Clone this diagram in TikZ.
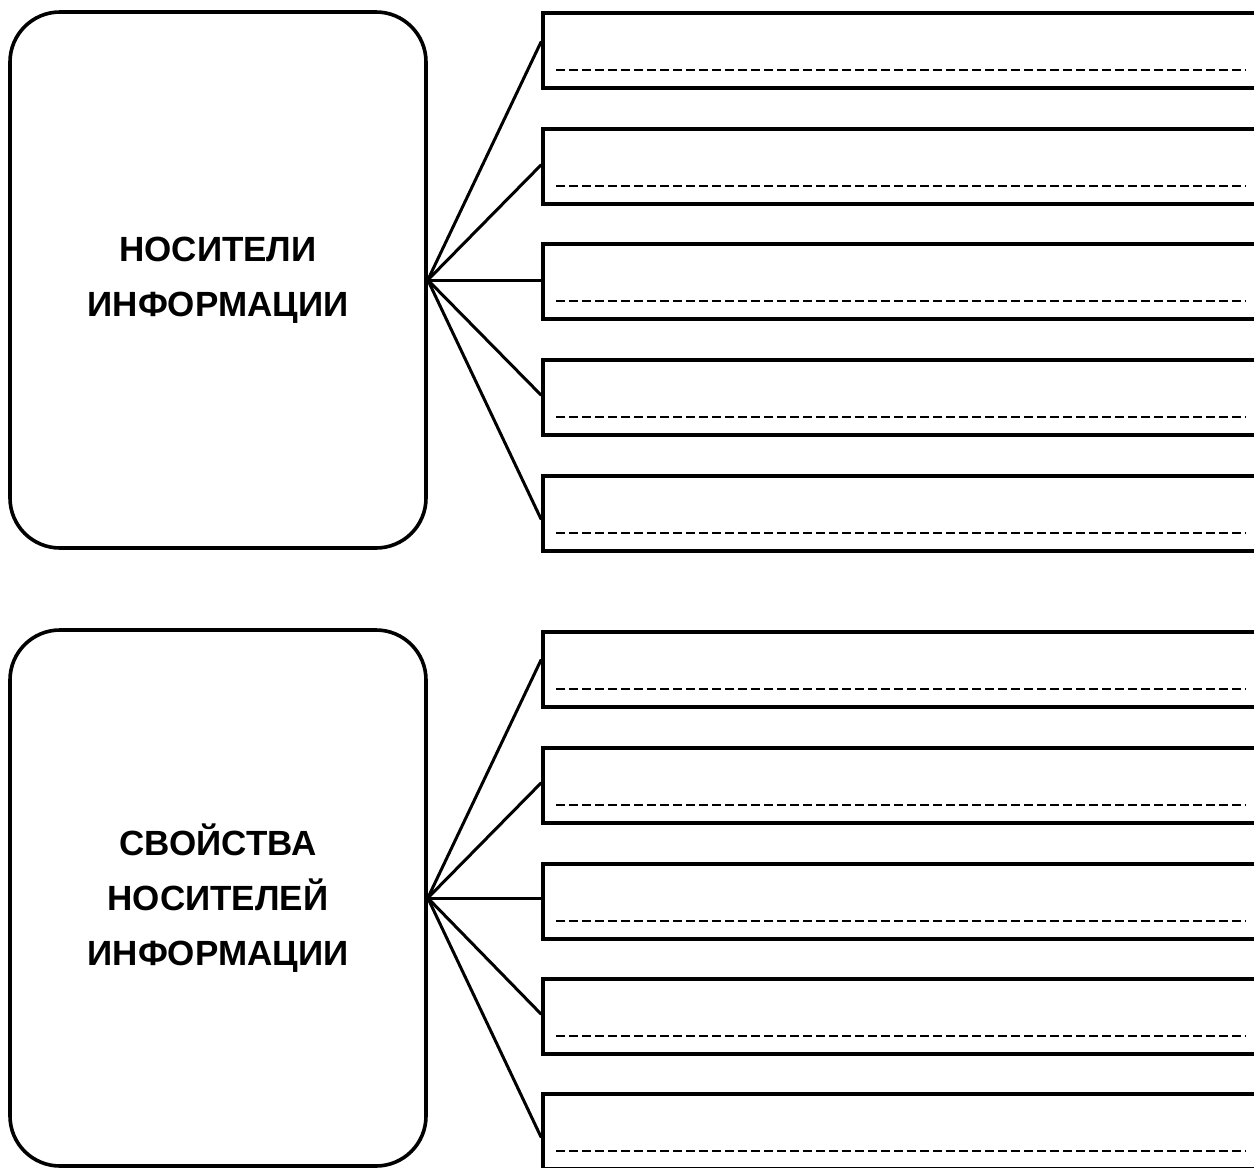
\documentclass[tikz,border=0pt]{standalone}
\usepackage{fontspec}
\setmainfont{Liberation Sans}
\begin{document}
\begin{tikzpicture}[x=1pt,y=-1pt,
  topic/.style={draw, line width=3.6pt, rounded corners=50pt, inner sep=0pt,
    minimum width=416pt, minimum height=536pt, align=center,
    font=\fontsize{35}{55}\selectfont\bfseries},
  slot/.style={draw, line width=3.6pt, inner sep=0pt, anchor=north west,
    minimum width=760pt, minimum height=75pt},
  rule/.style={line width=2.4pt, dash pattern=on 8.5pt off 4.5pt},
  link/.style={line width=3pt, line cap=round}]
\useasboundingbox (0,0) rectangle (1254,1168);
\clip (0,0) rectangle (1254,1168);

% first group: carriers of information
\node[topic] (a) at (218,280) {НОСИТЕЛИ\\ИНФОРМАЦИИ};
\foreach \i/\t/\h in {1/11/31, 2/127/38, 3/242/38, 4/358/37, 5/474/45} {
  \node[slot] (a\i) at (541,\t) {};
  \coordinate (a\i p) at (541,\t+\h);
  \draw[rule] (556,\t+59) -- (1246,\t+59);
  \draw[link] (a.east) -- (a\i p);
}

% second group: properties of information carriers
\node[topic] (b) at (218,898) {СВОЙСТВА\\НОСИТЕЛЕЙ\\ИНФОРМАЦИИ};
\foreach \i/\t/\h in {1/630/30, 2/746/37, 3/862/36, 4/977/37, 5/1092/45} {
  \node[slot] (b\i) at (541,\t) {};
  \coordinate (b\i p) at (541,\t+\h);
  \draw[rule] (556,\t+59) -- (1246,\t+59);
  \draw[link] (b.east) -- (b\i p);
}
\end{tikzpicture}
\end{document}
